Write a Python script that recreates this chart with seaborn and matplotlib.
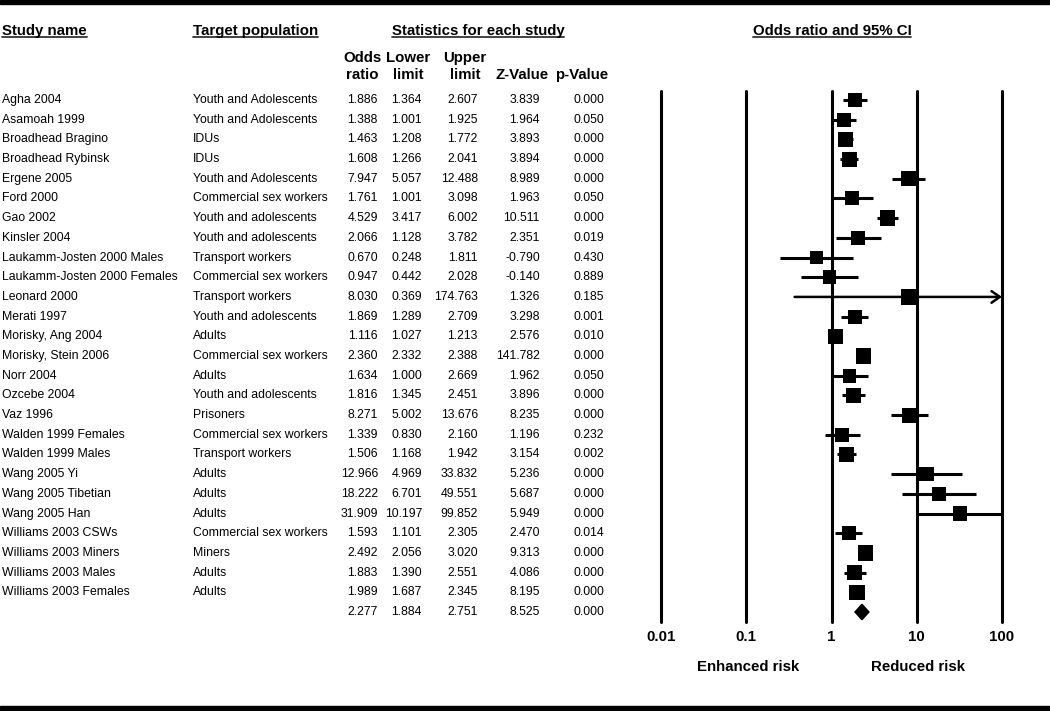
import numpy as np
import pandas as pd
import matplotlib
matplotlib.use('Agg')
import matplotlib.pyplot as plt
import matplotlib.transforms as mtransforms
from matplotlib import font_manager
from matplotlib.lines import Line2D
from matplotlib.patches import Rectangle
from matplotlib.ticker import NullLocator
import seaborn as sns

study_names = [
    'Agha 2004', 'Asamoah 1999', 'Broadhead Bragino', 'Broadhead Rybinsk',
    'Ergene 2005', 'Ford 2000', 'Gao 2002', 'Kinsler 2004',
    'Laukamm-Josten 2000 Males', 'Laukamm-Josten 2000 Females', 'Leonard 2000',
    'Merati 1997', 'Morisky, Ang 2004', 'Morisky, Stein 2006', 'Norr 2004',
    'Ozcebe 2004', 'Vaz 1996', 'Walden 1999 Females', 'Walden 1999 Males',
    'Wang 2005 Yi', 'Wang 2005 Tibetian', 'Wang 2005 Han', 'Williams 2003 CSWs',
    'Williams 2003 Miners', 'Williams 2003 Males', 'Williams 2003 Females',
]
populations = [
    'Youth and Adolescents', 'Youth and Adolescents', 'IDUs', 'IDUs',
    'Youth and Adolescents', 'Commercial sex workers', 'Youth and adolescents',
    'Youth and adolescents', 'Transport workers', 'Commercial sex workers',
    'Transport workers', 'Youth and adolescents', 'Adults', 'Commercial sex workers',
    'Adults', 'Youth and adolescents', 'Prisoners', 'Commercial sex workers',
    'Transport workers', 'Adults', 'Adults', 'Adults', 'Commercial sex workers',
    'Miners', 'Adults', 'Adults',
]
odds_ratio = [1.886, 1.388, 1.463, 1.608, 7.947, 1.761, 4.529, 2.066, 0.670, 0.947,
              8.030, 1.869, 1.116, 2.360, 1.634, 1.816, 8.271, 1.339, 1.506, 12.966,
              18.222, 31.909, 1.593, 2.492, 1.883, 1.989]
lower_limit = [1.364, 1.001, 1.208, 1.266, 5.057, 1.001, 3.417, 1.128, 0.248, 0.442,
               0.369, 1.289, 1.027, 2.332, 1.000, 1.345, 5.002, 0.830, 1.168, 4.969,
               6.701, 10.197, 1.101, 2.056, 1.390, 1.687]
upper_limit = [2.607, 1.925, 1.772, 2.041, 12.488, 3.098, 6.002, 3.782, 1.811, 2.028,
               174.763, 2.709, 1.213, 2.388, 2.669, 2.451, 13.676, 2.160, 1.942, 33.832,
               49.551, 99.852, 2.305, 3.020, 2.551, 2.345]
z_value = [3.839, 1.964, 3.893, 3.894, 8.989, 1.963, 10.511, 2.351, -0.790, -0.140,
           1.326, 3.298, 2.576, 141.782, 1.962, 3.896, 8.235, 1.196, 3.154, 5.236,
           5.687, 5.949, 2.470, 9.313, 4.086, 8.195]
p_value = [0.000, 0.050, 0.000, 0.000, 0.000, 0.050, 0.000, 0.019, 0.430, 0.889,
           0.185, 0.001, 0.010, 0.000, 0.050, 0.000, 0.000, 0.232, 0.002, 0.000,
           0.000, 0.000, 0.014, 0.000, 0.000, 0.000]
# relative study weights
weights = [3.8, 3.5, 3.8, 4.0, 4.2, 3.5, 4.2, 3.6, 3.3, 3.3, 4.5, 3.5, 4.0, 4.2,
           3.3, 4.0, 4.0, 3.5, 4.0, 3.8, 3.5, 3.6, 3.6, 4.2, 4.0, 4.2]

summary_stats = [2.277, 1.884, 2.751, 8.525, 0.000]
stat_headers = [('Odds', 'ratio'), ('Lower', 'limit'), ('Upper', 'limit'),
                ('', 'Z-Value'), ('', 'p-Value')]
x_ticks = [0.01, 0.1, 1, 10, 100]
tick_labels = ['0.01', '0.1', '1', '10', '100']

df = pd.DataFrame({'study': study_names, 'population': populations,
                   'or': odds_ratio, 'lower': lower_limit, 'upper': upper_limit,
                   'z': z_value, 'p': p_value, 'weight': weights})
df['row'] = np.arange(len(df))
summary_row = len(df)

sns.set_style('white')
installed = {f.name for f in font_manager.fontManager.ttflist}
if 'Liberation Sans Narrow' in installed:
    body_font, body_size = 'Liberation Sans Narrow', 10.3
else:
    body_font, body_size = 'Liberation Sans', 8.8
head_font = ['Liberation Sans', 'DejaVu Sans']
head_size = 10.8
plt.rcParams['font.family'] = head_font
plt.rcParams['text.color'] = 'black'
plt.rcParams['xtick.color'] = 'black'
plt.rcParams['axes.labelcolor'] = 'black'

W, H = 1050, 711
fig = plt.figure(figsize=(W / 100, H / 100), dpi=100)

# forest plot area
row_px = (612 - 100) / 26
ax = fig.add_axes([661 / W, 1 - 622 / H, (1002 - 661) / W, (622 - 91) / H])
ax.set_xscale('log')
ax.set_xlim(0.01, 100)
ax.set_ylim(summary_row + (622 - 612) / row_px, -(100 - 91) / row_px)
for s in ax.spines.values():
    s.set_visible(False)
ax.set_yticks([])
ax.xaxis.set_minor_locator(NullLocator())
ax.set_xticks(x_ticks)
ax.set_xticklabels(tick_labels, fontweight='bold', fontsize=head_size, color='black')
ax.tick_params(axis='x', length=0, pad=6)

for t in x_ticks:
    ax.axvline(t, color='black', lw=2.2, clip_on=False, zorder=1)

xmax = ax.get_xlim()[1]
inside = df[df['upper'] <= xmax * 1.001]
ax.hlines(inside['row'], inside['lower'], inside['upper'].clip(upper=xmax),
          color='black', lw=2.2, zorder=2)
for _, r in df[df['upper'] > xmax * 1.001].iterrows():
    ax.annotate('', xy=(xmax, r['row']), xytext=(r['lower'], r['row']),
                arrowprops=dict(arrowstyle='->,head_length=0.5,head_width=0.35',
                                lw=1.8, color='black',
                                shrinkA=0, shrinkB=0, mutation_scale=12),
                annotation_clip=False)

area_per_weight = (15 * 0.72) ** 2 / 4
wmin, wmax = min(weights), max(weights)
sns.scatterplot(data=df, x='or', y='row', size='weight', size_norm=(wmin, wmax),
                sizes=(wmin * area_per_weight, wmax * area_per_weight),
                marker='s', color='black', linewidth=0, legend=False, ax=ax,
                zorder=3)

s_or, s_lo, s_hi = summary_stats[:3]
half_h = 0.39
ax.fill([s_lo, s_or, s_hi, s_or],
        [summary_row, summary_row - half_h, summary_row, summary_row + half_h],
        color='black', zorder=3)
ax.set_xlabel('')
ax.set_ylabel('')

# text table, x in figure pixels, y in data rows
row_tr = mtransforms.blended_transform_factory(fig.transFigure, ax.transData)
num_right = [378, 422, 478, 540, 604]
head_center = [362, 408, 465, 522, 582]

def body_text(px, row, s, ha='left'):
    fig.text(px / W, row, s, transform=row_tr, ha=ha, va='center',
             family=body_font, fontsize=body_size, color='black')

for _, r in df.iterrows():
    body_text(2, r['row'], r['study'])
    body_text(193, r['row'], r['population'])
    for px, v in zip(num_right, [r['or'], r['lower'], r['upper'], r['z'], r['p']]):
        body_text(px, r['row'], f'{v:.3f}', ha='right')
for px, v in zip(num_right, summary_stats):
    body_text(px, summary_row, f'{v:.3f}', ha='right')

def head_text(px, py, s, ha='left'):
    return fig.text(px / W, 1 - py / H, s, ha=ha, va='center', color='black',
                    fontweight='bold', fontsize=head_size)

titles = [head_text(2, 31, 'Study name'),
          head_text(193, 31, 'Target population'),
          head_text(478, 31, 'Statistics for each study', ha='center'),
          head_text(832, 31, 'Odds ratio and 95% CI', ha='center')]
for cx, (top, bottom) in zip(head_center, stat_headers):
    if top:
        head_text(cx, 58, top, ha='center')
    head_text(cx, 75, bottom, ha='center')

head_text(748, 667, 'Enhanced risk', ha='center')
head_text(918, 667, 'Reduced risk', ha='center')

fig.canvas.draw()
renderer = fig.canvas.get_renderer()
for t in titles:
    bb = t.get_window_extent(renderer)
    yl = (bb.y0 + 1) / H
    fig.add_artist(Line2D([bb.x0 / W, bb.x1 / W], [yl, yl], color='#333333',
                          lw=1.3, transform=fig.transFigure))

fig.add_artist(Rectangle((0, 1 - 4 / H), 1, 4 / H, color='black',
                         transform=fig.transFigure))
fig.add_artist(Rectangle((0, 0), 1, 5 / H, color='black',
                         transform=fig.transFigure))

fig.savefig('out.png', dpi=100, facecolor='white')
